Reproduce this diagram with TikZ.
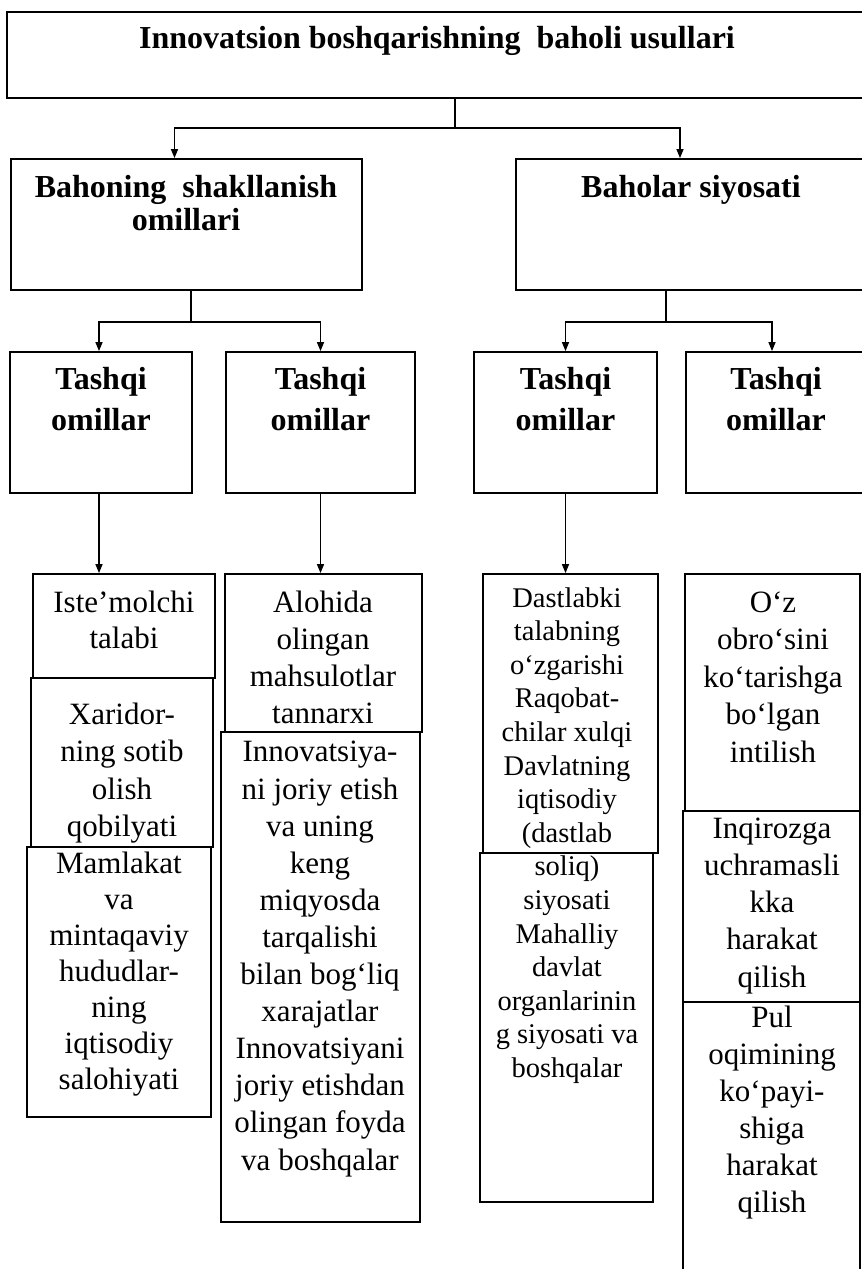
\documentclass[tikz,border=0pt]{standalone}
\usepackage{fontspec}
\setmainfont{Liberation Serif}
\usetikzlibrary{arrows.meta,fit}
\begin{document}
\begin{tikzpicture}[x=1pt,y=-1pt,
  box/.style={draw, line width=1.8pt, inner sep=0pt},
  hd/.style={font=\bfseries\fontsize{32}{#1}\selectfont, align=center, inner sep=0pt, anchor=base},
  hd/.default=37,
  tx/.style={font=\fontsize{31}{#1}\selectfont, align=center, inner sep=0pt, anchor=base},
  tx/.default=37,
  ln/.style={line width=1.3pt},
  arr/.style={line width=1.3pt, -{Triangle[length=9pt,width=7pt]}}]
\fill[white] (0,0) rectangle (862,1269);
\useasboundingbox (0,0) rectangle (862,1269);
% (multi-line text nodes are placed by the baseline of their last line)

% level 1
\node[box, fit={(7,12) (870,98)}] (top) {};
\node[hd] (ttop) at (437,48) {Innovatsion boshqarishning\ \ baholi usullari};

% level 2
\node[box, fit={(11,159) (362,290)}] (A) {};
\node[hd=33] (tA) at (186,230) {Bahoning\ \ shakllanish\\omillari};
\node[box, fit={(516,159) (870,290)}] (B) {};
\node[hd] (tB) at (691,197) {Baholar siyosati};

% level 3
\node[box, fit={(10,352) (192,493)}] (C1) {};
\node[hd=41] (tC1) at (101,430) {Tashqi\\omillar};
\node[box, fit={(226,352) (415,493)}] (C2) {};
\node[hd=41] (tC2) at (320.5,430) {Tashqi\\omillar};
\node[box, fit={(474,352) (657,493)}] (C3) {};
\node[hd=41] (tC3) at (565.5,430) {Tashqi\\omillar};
\node[box, fit={(686,352) (870,493)}] (C4) {};
\node[hd=41] (tC4) at (776,430) {Tashqi\\omillar};

% level 4, column L
\node[box, fit={(33,574) (215,678)}] (L1) {};
\node[tx=36] (tL1) at (124,648) {Iste’molchi\\talabi};
\node[box, fit={(31,678) (213,847)}] (L2) {};
\node[tx=37.5] (tL2) at (122,836.5) {Xaridor-\\ning sotib\\olish\\qobilyati};
\node[box, fit={(27,847) (211,1117)}] (L3) {};
\node[tx=36] (tL3) at (119,1089) {Mamlakat\\va\\mintaqaviy\\hududlar-\\ning\\iqtisodiy\\salohiyati};

% column M
\node[box, fit={(225,574) (422,732)}] (M1) {};
\node[tx] (tM1) at (323,723) {Alohida\\olingan\\mahsulotlar\\tannarxi};
\node[box, fit={(221,732) (420,1222)}] (M2) {};
\node[tx=37.1] (tM2) at (320,1170) {Innovatsiya-\\ni joriy etish\\va uning\\keng\\miqyosda\\tarqalishi\\bilan bog‘liq\\xarajatlar\\Innovatsiyani\\joriy etishdan\\olingan foyda\\va boshqalar};

% column R1
\node[box, fit={(483,574) (658,853)}] (R1a) {};
\node[box, fit={(480,853) (653,1202)}] (R1b) {};
\node[font=\fontsize{28.5}{33.6}\selectfont, align=center, inner sep=0pt, anchor=base] (tR1) at (567,1077.4)
  {Dastlabki\\talabning\\o‘zgarishi\\Raqobat-\\chilar xulqi\\Davlatning\\iqtisodiy\\(dastlab\\soliq)\\siyosati\\Mahalliy\\davlat\\organlarinin\\g siyosati va\\boshqalar};

% column R2
\node[box, fit={(685,574) (860,811)}] (R2a) {};
\node[tx=37.5] (tR2a) at (773,762) {O‘z\\obro‘sini\\ko‘tarishga\\bo‘lgan\\intilish};
\node[box, fit={(683,811) (860,1002)}] (R2b) {};
\node[tx=37.3] (tR2b) at (772,987.2) {Inqirozga\\uchramasli\\kka\\harakat\\qilish};
\node[box, fit={(683,1002) (860,1280)}] (R2c) {};
\node[tx] (tR2c) at (772,1212) {Pul\\oqimining\\ko‘payi-\\shiga\\harakat\\qilish};

% connectors
\coordinate (j1) at (455,128);
\draw[ln] (j1 |- top.south) -- (j1);
\draw[arr] (j1) -| ([xshift=-12pt]A.north);
\draw[arr] (j1) -| ([xshift=-13pt]B.north);

\coordinate (j2) at (191,322);
\draw[ln] (j2 |- A.south) -- (j2);
\draw[arr] (j2) -| ([xshift=-2pt]C1.north);
\draw[arr] (j2) -| (C2.north);

\coordinate (j3) at (666,322);
\draw[ln] (j3 |- B.south) -- (j3);
\draw[arr] (j3) -| (C3.north);
\draw[arr] (j3) -| ([xshift=-6pt]C4.north);

\draw[arr] ([xshift=-2pt]C1.south) -- ([xshift=-2pt]C1.south |- L1.north);
\draw[arr] (C2.south) -- (C2.south |- M1.north);
\draw[arr] (C3.south) -- (C3.south |- R1a.north);
\end{tikzpicture}
\end{document}
